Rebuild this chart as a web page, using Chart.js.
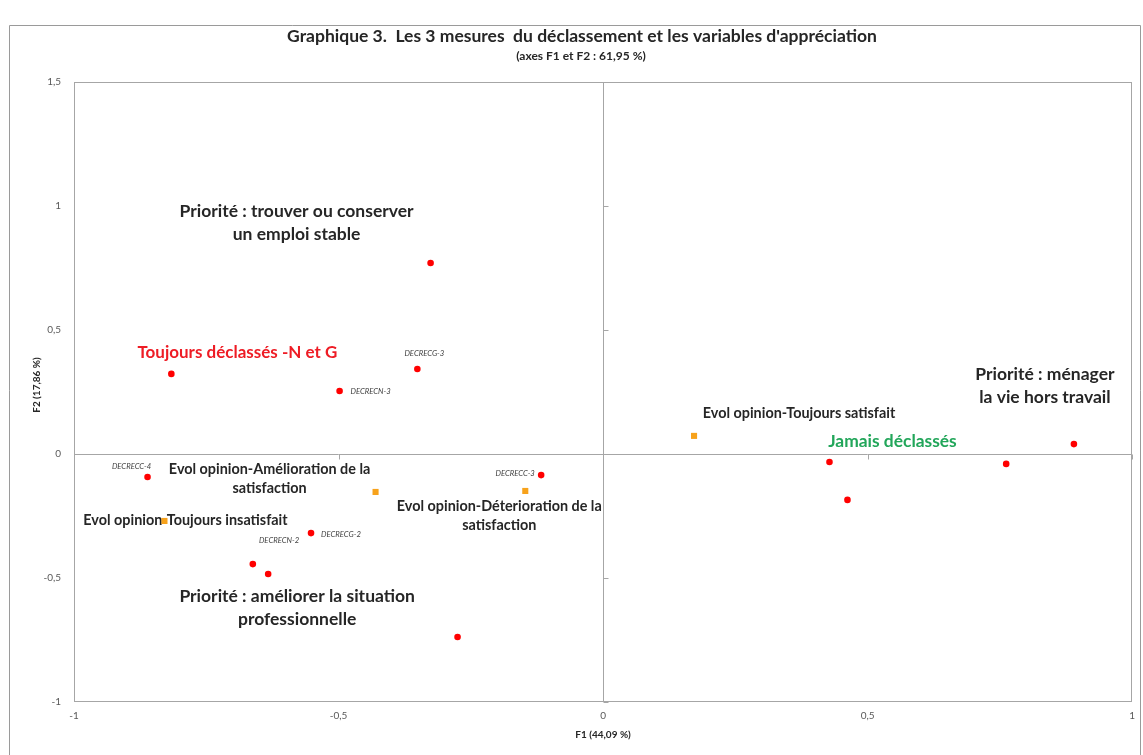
<!DOCTYPE html>
<html>
<head>
<meta charset="utf-8">
<script src="https://cdn.jsdelivr.net/npm/chart.js@4.4.1/dist/chart.umd.min.js"></script>
<style>
  html, body { margin: 0; padding: 0; background: #fff; }
  #wrap { position: relative; width: 1143px; height: 755px; }
</style>
</head>
<body>
<div id="wrap"><canvas id="acp" width="1143" height="755"></canvas></div>
<script>
// Active modalities (red dots): coordinates on F1 / F2
const activeF1 = [-0.326, -0.816, -0.498, -0.351, -0.861, -0.117, -0.552, -0.662, -0.633, -0.275, 0.428, 0.462, 0.762, 0.890];
const activeF2 = [0.770, 0.323, 0.254, 0.343, -0.093, -0.085, -0.319, -0.444, -0.484, -0.738, -0.032, -0.185, -0.040, 0.040];

// Supplementary "Evol opinion" modalities (orange squares)
const suppF1 = [0.172, -0.430, -0.147, -0.829];
const suppF2 = [0.073, -0.153, -0.149, -0.270];

const xTicks = [-1, -0.5, 0, 0.5, 1];
const yTicks = [-1, -0.5, 0, 0.5, 1, 1.5];

const titleText = "Graphique 3.  Les 3 mesures  du déclassement et les variables d'appréciation";
const subtitleText = '(axes F1 et F2 : 61,95 %)';
const xTitle = 'F1 (44,09 %)';
const yTitle = 'F2 (17,86 %)';

// annotations hooked to a point (set 0 = active, 1 = supplementary), offsets in px
const notes = [
  { text: ['Priorité : trouver ou conserver', 'un emploi stable'], set: 0, i: 0, dx: -134, dy: -52, kind: 'big' },
  { text: ['Toujours déclassés -N et G'], set: 0, i: 1, dx: 66, dy: -21, kind: 'red' },
  { text: ['DECRECN-3'], set: 0, i: 2, dx: 31, dy: 1, kind: 'small' },
  { text: ['DECRECG-3'], set: 0, i: 3, dx: 7, dy: -15, kind: 'small' },
  { text: ['DECRECC-4'], set: 0, i: 4, dx: -16, dy: -11, kind: 'small' },
  { text: ['DECRECC-3'], set: 0, i: 5, dx: -26, dy: -2, kind: 'small' },
  { text: ['DECRECG-2'], set: 0, i: 6, dx: 30, dy: 1, kind: 'small' },
  { text: ['DECRECN-2'], set: 0, i: 6, dx: -32, dy: 7, kind: 'small' },
  { text: ['Priorité : améliorer la situation', 'professionnelle'], set: 0, i: 8, dx: 29, dy: 22, kind: 'big' },
  { text: ['Jamais déclassés'], set: 0, i: 10, dx: 63, dy: -21, kind: 'green' },
  { text: ['Priorité : ménager', 'la vie hors travail'], set: 0, i: 13, dx: -29, dy: -70, kind: 'big' },
  { text: ['Evol opinion-Toujours satisfait'], set: 1, i: 0, dx: 105, dy: -23, kind: 'evol' },
  { text: ['Evol opinion-Amélioration de la', 'satisfaction'], set: 1, i: 1, dx: -106, dy: -23, kind: 'evol' },
  { text: ['Evol opinion-Déterioration de la', 'satisfaction'], set: 1, i: 2, dx: -26, dy: 15, kind: 'evol' },
  { text: ['Evol opinion-Toujours insatisfait'], set: 1, i: 3, dx: 21, dy: -1, kind: 'evol' }
];

const FONT = 'Lato, "Open Sans", sans-serif';
const noteStyles = {
  big:   { font: 'bold 17.5px ' + FONT, color: '#262626', lh: 23 },
  evol:  { font: 'bold 14.4px ' + FONT, color: '#262626', lh: 19 },
  red:   { font: 'bold 17px ' + FONT, color: '#ee1c25', lh: 22 },
  green: { font: 'bold 17.4px ' + FONT, color: '#22a65a', lh: 22 },
  small: { font: 'italic 7.7px ' + FONT, color: '#404040', lh: 9 }
};

function toXY(xs, ys) {
  return xs.map(function(v, k) { return { x: v, y: ys[k] }; });
}

function comma(v) {
  return String(v).replace('.', ',');
}

const frameColor = '#a6a6a6';

const decor = {
  id: 'decor',
  beforeDatasetsDraw(chart) {
    const ctx = chart.ctx;
    const a = chart.chartArea;
    const sx = chart.scales.x, sy = chart.scales.y;
    ctx.save();
    ctx.strokeStyle = frameColor;
    ctx.lineWidth = 1;
    // plot area frame
    ctx.strokeRect(Math.round(a.left) + 0.5, Math.round(a.top) + 0.5,
      Math.round(a.right - a.left) - 1, Math.round(a.bottom - a.top) - 1);
    // small tick marks on the zero axes
    const x0 = Math.round(sx.getPixelForValue(0)) + 0.5;
    const y0 = Math.round(sy.getPixelForValue(0)) + 0.5;
    ctx.beginPath();
    yTicks.forEach(function(v) {
      if (v === 0) return;
      const py = Math.round(sy.getPixelForValue(v)) + 0.5;
      ctx.moveTo(x0, py); ctx.lineTo(x0 + 5, py);
    });
    xTicks.forEach(function(v) {
      if (v === 0) return;
      const px = Math.round(sx.getPixelForValue(v)) + 0.5;
      ctx.moveTo(px, y0); ctx.lineTo(px, y0 + 5);
    });
    ctx.stroke();

    // annotations, under the markers
    ctx.textAlign = 'center';
    ctx.textBaseline = 'middle';
    notes.forEach(function(n) {
      const st = noteStyles[n.kind];
      const el = chart.getDatasetMeta(n.set).data[n.i];
      ctx.font = st.font;
      ctx.fillStyle = st.color;
      n.text.forEach(function(line, k) {
        ctx.fillText(line, el.x + n.dx, el.y + n.dy + k * st.lh);
      });
    });
    ctx.restore();
  },
  afterDraw(chart) {
    const ctx = chart.ctx;
    const a = chart.chartArea;
    ctx.save();
    // outer chart frame
    ctx.strokeStyle = '#9a9a9a';
    ctx.lineWidth = 1;
    ctx.beginPath();
    ctx.moveTo(9.5, 760); ctx.lineTo(9.5, 25.5); ctx.lineTo(1140.5, 25.5); ctx.lineTo(1140.5, 760);
    ctx.stroke();

    ctx.fillStyle = '#262626';
    ctx.textAlign = 'center';
    ctx.textBaseline = 'middle';
    ctx.font = 'bold 17.5px ' + FONT;
    ctx.fillText(titleText, 582, 36);
    ctx.font = 'bold 12px ' + FONT;
    ctx.fillText(subtitleText, 581, 56);

    ctx.font = 'bold 10px ' + FONT;
    ctx.fillText(xTitle, (a.left + a.right) / 2, 735);
    ctx.translate(37, 385);
    ctx.rotate(-Math.PI / 2);
    ctx.fillText(yTitle, 0, 0);
    ctx.restore();
  }
};

new Chart(document.getElementById('acp'), {
  type: 'scatter',
  data: {
    datasets: [
      {
        label: 'Modalités actives',
        data: toXY(activeF1, activeF2),
        pointStyle: 'circle',
        pointRadius: 3.3,
        backgroundColor: '#ff0000',
        borderColor: '#ff0000',
        borderWidth: 0
      },
      {
        label: 'Evol opinion',
        data: toXY(suppF1, suppF2),
        pointStyle: 'rect',
        pointRadius: 4.3,
        backgroundColor: '#f7a21b',
        borderColor: '#f7a21b',
        borderWidth: 0
      }
    ]
  },
  options: {
    responsive: false,
    animation: false,
    events: [],
    layout: { padding: { left: 24, top: 82, right: 8, bottom: 23 } },
    plugins: {
      legend: { display: false },
      tooltip: { enabled: false }
    },
    scales: {
      x: {
        type: 'linear',
        min: -1,
        max: 1,
        afterFit: function(scale) { scale.height = 30; },
        afterBuildTicks: function(scale) { scale.ticks = xTicks.map(function(v) { return { value: v }; }); },
        border: { display: false },
        grid: {
          drawTicks: false,
          lineWidth: 1,
          color: function(c) { return c.tick && c.tick.value === 0 ? frameColor : 'rgba(0,0,0,0)'; }
        },
        ticks: {
          padding: 8,
          maxRotation: 0,
          color: '#595959',
          font: { family: FONT, size: 10 },
          callback: comma
        }
      },
      y: {
        type: 'linear',
        min: -1,
        max: 1.5,
        afterFit: function(scale) { scale.width = 50; },
        afterBuildTicks: function(scale) { scale.ticks = yTicks.map(function(v) { return { value: v }; }); },
        border: { display: false },
        grid: {
          drawTicks: false,
          lineWidth: 1,
          color: function(c) { return c.tick && c.tick.value === 0 ? frameColor : 'rgba(0,0,0,0)'; }
        },
        ticks: {
          padding: 13,
          color: '#595959',
          font: { family: FONT, size: 10 },
          callback: comma
        }
      }
    }
  },
  plugins: [decor]
});
</script>
</body>
</html>
